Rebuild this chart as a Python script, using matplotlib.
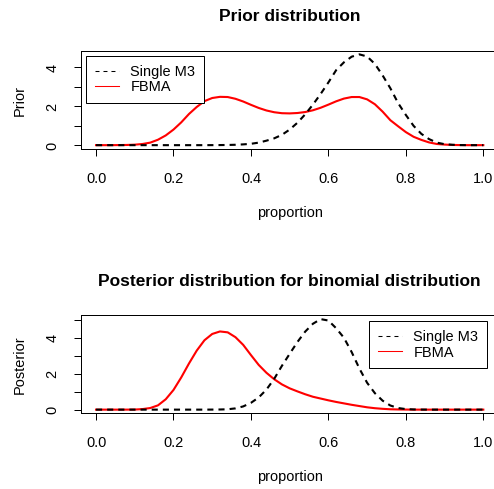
import numpy as np
import matplotlib
matplotlib.use("Agg")
import matplotlib.pyplot as plt
from matplotlib.lines import Line2D

# ---------------- data ----------------
proportion = np.round(np.arange(0, 1.0001, 0.02), 2)

prior_single_m3 = [0, 0, 0, 0, 0, 0, 0, 0, 0, 0, 0, 0, 0, 0, 0,
                   0.002, 0.005, 0.01, 0.02, 0.04, 0.07, 0.13, 0.23, 0.35, 0.53,
                   0.80, 1.15, 1.58, 2.08, 2.63, 3.22, 3.85, 4.25, 4.54, 4.66,
                   4.55, 4.17, 3.58, 2.92, 2.16, 1.55, 0.99, 0.58, 0.31, 0.13,
                   0.05, 0.02, 0.005, 0, 0, 0]

prior_fbma = [0, 0, 0, 0.005, 0.01, 0.025, 0.06, 0.13, 0.28, 0.50,
              0.80, 1.17, 1.60, 1.96, 2.26, 2.42, 2.48, 2.47, 2.38, 2.24,
              2.07, 1.91, 1.78, 1.69, 1.64, 1.63, 1.65, 1.70, 1.79, 1.92,
              2.08, 2.25, 2.39, 2.47, 2.47, 2.35, 2.10, 1.72, 1.28, 0.97,
              0.67, 0.43, 0.27, 0.14, 0.06, 0.03, 0.01, 0.005, 0, 0, 0]

post_single_m3 = [0, 0, 0, 0, 0, 0, 0, 0, 0, 0, 0, 0, 0, 0, 0,
                  0.003, 0.008, 0.02, 0.07, 0.18, 0.38, 0.68, 1.12, 1.72, 2.45,
                  3.12, 3.78, 4.36, 4.80, 5.06, 4.98, 4.55, 4.02, 3.22, 2.30,
                  1.50, 0.92, 0.50, 0.23, 0.09, 0.03, 0.01, 0.003,
                  0, 0, 0, 0, 0, 0, 0, 0]

post_fbma = [0, 0, 0, 0, 0.001, 0.005, 0.03, 0.09, 0.24, 0.58,
             1.10, 1.80, 2.58, 3.30, 3.88, 4.23, 4.37, 4.32, 4.05, 3.62,
             3.05, 2.50, 2.06, 1.70, 1.41, 1.19, 1.02, 0.86, 0.72, 0.62,
             0.52, 0.43, 0.35, 0.27, 0.20, 0.13, 0.08, 0.045, 0.02, 0.01,
             0.004, 0, 0, 0, 0, 0, 0, 0, 0, 0, 0]

x_ticks = [0.0, 0.2, 0.4, 0.6, 0.8, 1.0]
x_tick_labels = ["0.0", "0.2", "0.4", "0.6", "0.8", "1.0"]

titles = ["Prior distribution", "Posterior distribution for binomial distribution"]
ylabels = ["Prior", "Posterior"]
legend_labels = ["Single M3", "FBMA"]

# ---------------- figure ----------------
W, H = 494, 489
DPI = 100
plt.rcParams['font.family'] = ['Liberation Sans', 'DejaVu Sans']
fig = plt.figure(figsize=((W + 0.3) / DPI, (H + 0.3) / DPI), dpi=DPI)
fig.patch.set_facecolor("white")

PX = 72.0 / DPI  # points per pixel
fs = 14.5 * PX
fs_title = 17.4 * PX

# axes rectangles in pixels: left, right, top, bottom
ax_px = [(80.5, 498.5, 51.0, 149.0), (80.5, 498.5, 315.6, 413.3)]
legend_px = [(86.0, 56.3), (369.0, 321.3)]
title_y_px = [16.2, 281.2]
xlabel_y_px = [213.2, 476.5]

panels = [(prior_single_m3, prior_fbma), (post_single_m3, post_fbma)]

for i, (single, fbma) in enumerate(panels):
    l, r, t, b = ax_px[i]
    ax = fig.add_axes([l / W, 1 - b / H, (r - l) / W, (b - t) / H])
    hb = b - t

    ax.plot(proportion, fbma, color="#FF0000", lw=2.0 * PX * 1.05,
            solid_joinstyle="round")
    ax.plot(proportion, single, color="black", lw=2.0 * PX * 1.05,
            dashes=(2.9, 2.4))

    m = max(max(single), max(fbma))
    ax.set_xlim(-0.04, 1.04)
    ax.set_ylim(-0.04 * m, 1.04 * m)

    ax.set_xticks(x_ticks)
    ax.set_xticklabels(x_tick_labels)
    ymax_tick = int(np.floor(m))
    yt = list(range(0, ymax_tick + 1))
    ax.set_yticks(yt)
    ax.set_yticklabels([str(v) if v % 2 == 0 else "" for v in yt],
                       rotation=90, va="center")

    ax.tick_params(axis="x", length=7 * PX, width=1.0 * PX, pad=15.5 * PX,
                   labelsize=fs, colors="black")
    ax.tick_params(axis="y", length=7 * PX, width=1.0 * PX, pad=13.8 * PX,
                   labelsize=fs, colors="black")
    for s in ax.spines.values():
        s.set_linewidth(1.0 * PX)
        s.set_color("black")
    ax.spines["right"].set_visible(False)

    ax.set_xlabel("proportion", fontsize=fs, va="center")
    ax.xaxis.set_label_coords(0.5, (b - xlabel_y_px[i]) / hb)
    ax.set_ylabel(ylabels[i], fontsize=fs, va="center")
    ax.yaxis.set_label_coords((20.2 - l) / (r - l), 0.5)

    ax.set_title(titles[i], fontsize=fs_title, fontweight="bold",
                 y=(b - title_y_px[i]) / hb, pad=0, va="center")

    # legend
    h1 = Line2D([], [], color="black", lw=1.0 * PX * 1.05, dashes=(3.8, 3.8))
    h2 = Line2D([], [], color="#FF0000", lw=1.0 * PX * 1.05)
    lx, ly = legend_px[i]
    leg = ax.legend([h1, h2], legend_labels, loc="upper left",
                    bbox_to_anchor=(lx / W, 1 - ly / H),
                    bbox_transform=fig.transFigure, borderaxespad=0,
                    fontsize=fs, frameon=True, fancybox=False, shadow=False,
                    handlelength=1.65, handletextpad=0.8, borderpad=0.6,
                    labelspacing=0.1)
    fr = leg.get_frame()
    fr.set_edgecolor("black")
    fr.set_linewidth(1.0 * PX)
    fr.set_facecolor("white")
    fr.set_alpha(1)

fig.savefig("out.png", dpi=DPI, facecolor="white")
